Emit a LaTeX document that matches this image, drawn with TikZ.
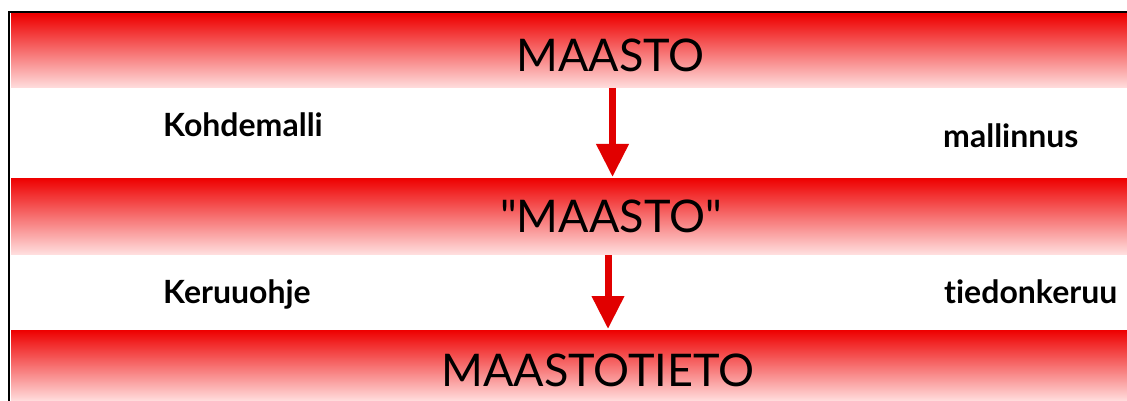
\documentclass[tikz,border=0pt]{standalone}
\usepackage{fontspec}
\setmainfont{Lato}[Ligatures={NoCommon}]
\usetikzlibrary{arrows.meta}
\definecolor{bandred}{RGB}{238,0,0}
\definecolor{bandpink}{RGB}{255,222,222}
\definecolor{arrowred}{RGB}{225,0,0}
\tikzset{
  band/.style={inner sep=0pt, outer sep=0pt, anchor=north west, top color=bandred, bottom color=bandpink, minimum width=1116pt},
  title/.style={font=\fontsize{45}{45}\selectfont, text=black, anchor=base, inner sep=0pt},
  lbl/.style={font=\fontsize{32}{32}\selectfont\bfseries, text=black, anchor=base west, inner sep=0pt},
  arr/.style={draw=arrowred, line width=7pt, -{Triangle[width=31pt,length=33pt]}, shorten <=0pt},
  frame/.style={line width=2.6pt, black}
}
\begin{document}
\begin{tikzpicture}[x=1pt,y=-1pt]
\useasboundingbox (0,0) rectangle (1127,401);
\fill[white] (0,0) rectangle (1127,401);
% bands
\node[band, minimum height=74pt] (top) at (11,14) {};
\node[band, minimum height=76pt] (mid) at (11,178) {};
\node[band, minimum height=71pt] (bot) at (11,330) {};
% frame
\coordinate (fl) at (9,401);
\coordinate (fc) at (9,12);
\coordinate (fr) at (1127,12);
\draw[frame] (fl) -- (fc) -- (fr);
% titles
\node[title] (t1) at (610.5,72) {MAASTO};
\node[title] (t2) at (611,232) {\textquotedbl MAASTO\textquotedbl};
\node[title] (t3) at (598,386) {MAASTOTIETO};
% labels
\node[lbl] (l1) at (163,136) {Kohdemalli};
\node[lbl] (r1) at (943,147) {mallinnus};
\node[lbl] (l2) at (163,303) {Keruuohje};
\node[lbl] (r2) at (944,303) {tiedonkeruu};
% arrows
\coordinate (a1s) at (612.5,88);
\coordinate (a1e) at (612.5,177);
\coordinate (a2s) at (608,255);
\coordinate (a2e) at (608,329);
\draw[arr] (a1s) -- (a1e);
\draw[arr] (a2s) -- (a2e);
\end{tikzpicture}
\end{document}
